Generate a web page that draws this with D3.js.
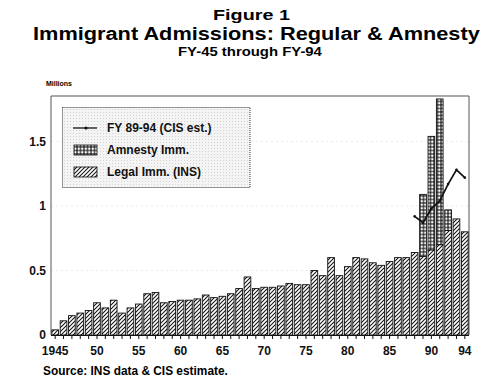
<!DOCTYPE html>
<html>
<head>
<meta charset="utf-8">
<script src="https://cdn.jsdelivr.net/npm/d3@7"></script>
<style>
  html, body { margin: 0; padding: 0; background: #fff; }
  svg { display: block; font-family: "Liberation Sans", Arial, Helvetica, sans-serif; }
</style>
</head>
<body>
<svg id="chart" width="504" height="383"></svg>
<script>
// ---- data ----
const years = d3.range(1945, 1995);
const legalImm = [
  0.04, 0.11, 0.15, 0.17, 0.19, 0.25, 0.21, 0.27, 0.17, 0.21,
  0.24, 0.32, 0.33, 0.25, 0.26, 0.27, 0.27, 0.28, 0.31, 0.29,
  0.30, 0.32, 0.36, 0.45, 0.36, 0.37, 0.37, 0.38, 0.40, 0.39,
  0.39, 0.50, 0.46, 0.60, 0.46, 0.53, 0.60, 0.59, 0.56, 0.54,
  0.57, 0.60, 0.60, 0.64, 0.61, 0.66, 0.70, 0.81, 0.90, 0.80
];
const amnestyImm = [
  0, 0, 0, 0, 0, 0, 0, 0, 0, 0,
  0, 0, 0, 0, 0, 0, 0, 0, 0, 0,
  0, 0, 0, 0, 0, 0, 0, 0, 0, 0,
  0, 0, 0, 0, 0, 0, 0, 0, 0, 0,
  0, 0, 0, 0, 0.48, 0.88, 1.13, 0.16, 0, 0
];
const cisYears = [1988, 1989, 1990, 1991, 1992, 1993, 1994];
const cisEst = [0.92, 0.87, 0.98, 1.04, 1.17, 1.28, 1.22];
const yTicks = [0, 0.5, 1, 1.5];
const yTickLabels = ["0", "0.5", "1", "1.5"];
const xLabelYears = [1945, 1950, 1955, 1960, 1965, 1970, 1975, 1980, 1985, 1990, 1994];
const xLabelTexts = ["1945", "50", "55", "60", "65", "70", "75", "80", "85", "90", "94"];
const legendLabels = ["FY 89-94 (CIS est.)", "Amnesty Imm.", "Legal Imm. (INS)"];

// ---- layout ----
const svg = d3.select("#chart");
const pLeft = 51, pRight = 469, pTop = 96, pBottom = 335;

const x = d3.scaleBand().domain(years).range([pLeft, pRight]).paddingInner(0.2).paddingOuter(0.1);
const y = d3.scaleLinear().domain([0, 1.853]).range([pBottom, pTop]);

// ---- patterns ----
const defs = svg.append("defs");
const hatch = defs.append("pattern").attr("id", "hatch").attr("patternUnits", "userSpaceOnUse")
  .attr("width", 4).attr("height", 4);
hatch.append("rect").attr("width", 4).attr("height", 4).attr("fill", "#fff");
hatch.append("path").attr("d", "M-1,1 l2,-2 M0,4 l4,-4 M3,5 l2,-2")
  .attr("stroke", "#111").attr("stroke-width", 1.05);

const cross = defs.append("pattern").attr("id", "cross").attr("patternUnits", "userSpaceOnUse")
  .attr("width", 3.5).attr("height", 3.5);
cross.append("rect").attr("width", 3.5).attr("height", 3.5).attr("fill", "#333");
cross.append("circle").attr("cx", 1.75).attr("cy", 1.75).attr("r", 1.25).attr("fill", "#fff");

const stipple = defs.append("pattern").attr("id", "stipple").attr("patternUnits", "userSpaceOnUse")
  .attr("width", 3).attr("height", 3);
stipple.append("rect").attr("width", 3).attr("height", 3).attr("fill", "#f4f4f4");
stipple.append("rect").attr("x", 1).attr("y", 1).attr("width", 1).attr("height", 1).attr("fill", "#d4d4d4");

// helper: stretch a text horizontally to a target width (glyph scaling)
function fitWidth(sel, x0, target) {
  const w = sel.node().getComputedTextLength();
  const k = target / w;
  sel.attr("x", 0).attr("transform", `translate(${x0},0) scale(${k},1)`);
}

// ---- titles ----
fitWidth(svg.append("text").attr("y", 20.5)
  .attr("font-weight", "bold").attr("font-size", 15).text("Figure 1"), 213, 77);
fitWidth(svg.append("text").attr("y", 40.5)
  .attr("font-weight", "bold").attr("font-size", 18.5).text("Immigrant Admissions: Regular & Amnesty"), 33, 447);
fitWidth(svg.append("text").attr("y", 56.5)
  .attr("font-weight", "bold").attr("font-size", 13).text("FY-45 through FY-94"), 178, 144);
fitWidth(svg.append("text").attr("y", 86.5)
  .attr("font-weight", "bold").attr("font-size", 8).text("Millions"), 46, 26);

// ---- gridlines (faint) ----
svg.append("g").selectAll("line").data(yTicks.slice(1)).join("line")
  .attr("x1", pLeft).attr("x2", pRight)
  .attr("y1", d => y(d)).attr("y2", d => y(d))
  .attr("stroke", "#e4e4e4").attr("stroke-dasharray", "2,3").attr("stroke-width", 0.8);

// ---- frame ----
svg.append("path")
  .attr("d", `M${pLeft},${pBottom} V${pTop} H${pRight} V${pBottom}`)
  .attr("fill", "none").attr("stroke", "#555").attr("stroke-width", 1);

// ---- bars ----
const rows = years.map((yr, i) => ({ year: yr, legal: legalImm[i], amnesty: amnestyImm[i] }));
const bars = svg.append("g");
bars.selectAll("rect.legal").data(rows).join("rect").attr("class", "legal")
  .attr("x", d => x(d.year)).attr("width", x.bandwidth())
  .attr("y", d => y(d.legal)).attr("height", d => y(0) - y(d.legal))
  .attr("fill", "url(#hatch)").attr("stroke", "#111").attr("stroke-width", 0.9);
bars.selectAll("rect.amn").data(rows.filter(d => d.amnesty > 0)).join("rect").attr("class", "amn")
  .attr("x", d => x(d.year)).attr("width", x.bandwidth())
  .attr("y", d => y(d.legal + d.amnesty)).attr("height", d => y(d.legal) - y(d.legal + d.amnesty))
  .attr("fill", "url(#cross)").attr("stroke", "#111").attr("stroke-width", 0.9);

// ---- x axis ----
const xAxis = d3.axisBottom(x).tickSize(4).tickSizeOuter(0)
  .tickFormat(d => { const k = xLabelYears.indexOf(d); return k >= 0 ? xLabelTexts[k] : ""; });
const gx = svg.append("g").attr("transform", `translate(0,${pBottom})`).call(xAxis);
gx.select(".domain").attr("stroke", "#111").attr("stroke-width", 1.2)
  .attr("d", `M${pLeft},0.5H${pRight}`);
gx.selectAll(".tick line").attr("stroke", "#111");
gx.selectAll(".tick text").attr("y", 20).attr("dy", 0).attr("font-size", 12)
  .attr("font-weight", "bold").attr("font-family", "Liberation Sans, Arial, sans-serif").attr("fill", "#111");

// ---- y axis ----
const yAxis = d3.axisLeft(y).tickValues(yTicks).tickSize(0).tickPadding(5)
  .tickFormat((d, i) => yTickLabels[i]);
const gy = svg.append("g").attr("transform", `translate(${pLeft},0)`).call(yAxis);
gy.select(".domain").remove();
gy.selectAll(".tick text").attr("font-size", 12).attr("font-weight", "bold")
  .attr("font-family", "Liberation Sans, Arial, sans-serif").attr("fill", "#111");

// ---- CIS estimate line ----
const lineGen = d3.line().x((d, i) => x(cisYears[i]) + x.bandwidth() / 2).y(d => y(d));
svg.append("path").datum(cisEst).attr("d", lineGen)
  .attr("fill", "none").attr("stroke", "#111").attr("stroke-width", 1.7).attr("stroke-linejoin", "miter");
svg.append("g").selectAll("circle").data(cisEst).join("circle")
  .attr("cx", (d, i) => x(cisYears[i]) + x.bandwidth() / 2).attr("cy", d => y(d))
  .attr("r", 1.3).attr("fill", "#111");

// ---- source ----
fitWidth(svg.append("text").attr("y", 375.5).attr("font-weight", "bold").attr("font-size", 12)
  .text("Source: INS data & CIS estimate."), 43, 185);

// ---- legend ----
const lg = svg.append("g");
lg.append("rect").attr("x", 62.5).attr("y", 107.5).attr("width", 187.5).attr("height", 80)
  .attr("fill", "url(#stipple)").attr("stroke", "#333").attr("stroke-width", 1).attr("stroke-dasharray", "1,1");
const rowY = [128, 150, 172];
lg.append("line").attr("x1", 73).attr("x2", 97).attr("y1", rowY[0]).attr("y2", rowY[0])
  .attr("stroke", "#111").attr("stroke-width", 1.3);
lg.append("circle").attr("cx", 86).attr("cy", rowY[0]).attr("r", 1.6).attr("fill", "#111");
lg.append("rect").attr("x", 74).attr("y", rowY[1] - 5).attr("width", 23).attr("height", 10)
  .attr("fill", "url(#cross)").attr("stroke", "#111").attr("stroke-width", 0.8);
lg.append("rect").attr("x", 74).attr("y", rowY[2] - 5).attr("width", 23).attr("height", 10)
  .attr("fill", "url(#hatch)").attr("stroke", "#111").attr("stroke-width", 0.8);
lg.selectAll("text").data(legendLabels).join("text")
  .attr("x", 107).attr("y", (d, i) => rowY[i] + 4.3)
  .attr("font-size", 12).attr("font-weight", "bold").attr("fill", "#111").text(d => d);
</script>
</body>
</html>
